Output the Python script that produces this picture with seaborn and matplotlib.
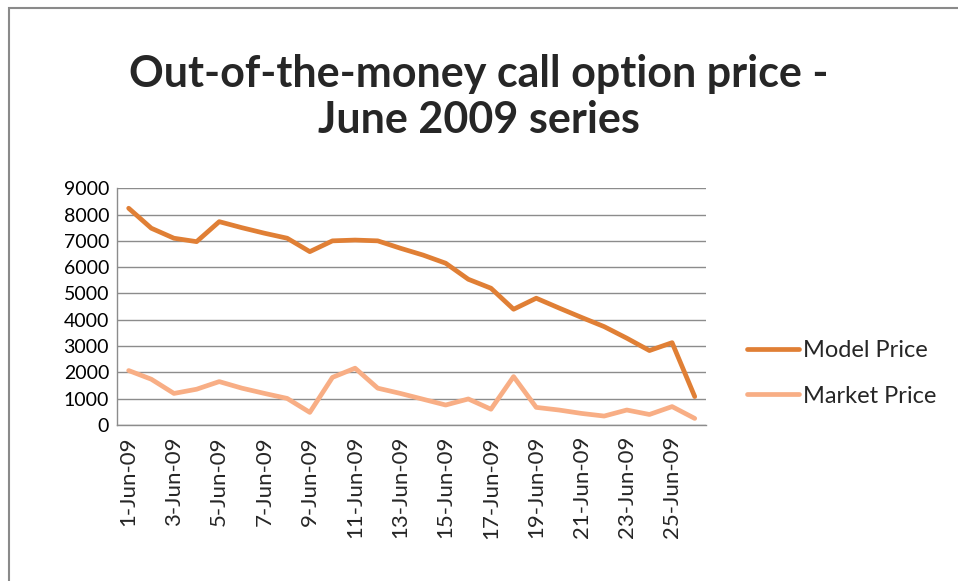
import numpy as np
import pandas as pd
import matplotlib
matplotlib.use("Agg")
import matplotlib.pyplot as plt
import seaborn as sns
from matplotlib.patches import Rectangle

# Data (one value per trading date)
dates = [f"{d}-Jun-09" for d in range(1, 27)]
model_price = [8240, 7480, 7100, 6970, 7730, 7500, 7290, 7100, 6590, 7000,
               7030, 7000, 6720, 6460, 6150, 5540, 5200, 4400, 4820, 4450,
               4090, 3740, 3300, 2830, 3130, 1080]
market_price = [2070, 1740, 1200, 1360, 1650, 1400, 1200, 1010, 480, 1810,
                2160, 1400, 1200, 980, 760, 990, 600, 1840, 670, 570,
                440, 340, 570, 400, 700, 250]
series_names = ["Model Price", "Market Price"]
series_colors = ["#E07F35", "#F8AE85"]

df = pd.DataFrame({
    "idx": list(range(len(dates))) * 2,
    "price": model_price + market_price,
    "series": [series_names[0]] * len(dates) + [series_names[1]] * len(dates),
})

sns.set_theme(style="white")
plt.rcParams["font.family"] = ["Lato", "DejaVu Sans"]

fig = plt.figure(figsize=(9.58, 5.81), dpi=100)
ax = fig.add_axes([0.1225, 0.2685, 0.737 - 0.1225, 0.676 - 0.2685])

sns.lineplot(data=df, x="idx", y="price", hue="series", palette=series_colors,
             linewidth=3.4, ax=ax, legend=False)

ax.set_xlim(-0.5, len(dates) - 0.5)
ax.set_ylim(0, 9000)
ax.set_yticks(range(0, 9001, 1000))
ax.yaxis.grid(True, color="#8c8c8c", linewidth=1.0)
ax.set_axisbelow(True)
ax.tick_params(axis="y", labelsize=14, length=0, pad=6, colors="black")
ax.set_xticks(range(0, len(dates), 2))
ax.set_xticklabels(dates[::2], rotation=90, fontsize=16)
ax.tick_params(axis="x", length=0, pad=8)
ax.set_xlabel("")
ax.set_ylabel("")

for side in ["top", "right"]:
    ax.spines[side].set_visible(False)
for side in ["left", "bottom"]:
    ax.spines[side].set_color("#8c8c8c")
    ax.spines[side].set_linewidth(1.0)

# legend to the right of the plot
handles = [plt.Line2D([], [], color=c, linewidth=3.4) for c in series_colors]
fig.legend(handles, series_names, loc="upper left", bbox_to_anchor=(0.78, 0.415),
           frameon=False, fontsize=17, handlelength=2.2, handletextpad=0.15,
           labelspacing=1.05, borderpad=0, borderaxespad=0)

fig.text(0.5, 0.833, "Out-of-the-money call option price -\nJune 2009 series",
         ha="center", va="center", fontsize=31, fontweight="bold",
         linespacing=1.2)

# outer chart frame
fig.patches.append(Rectangle((0.0094, -0.05), 1.2, 0.036 + 1.0, transform=fig.transFigure,
                             fill=False, edgecolor="#8a8a8a", linewidth=1.5))

fig.savefig("out.png", dpi=100)
